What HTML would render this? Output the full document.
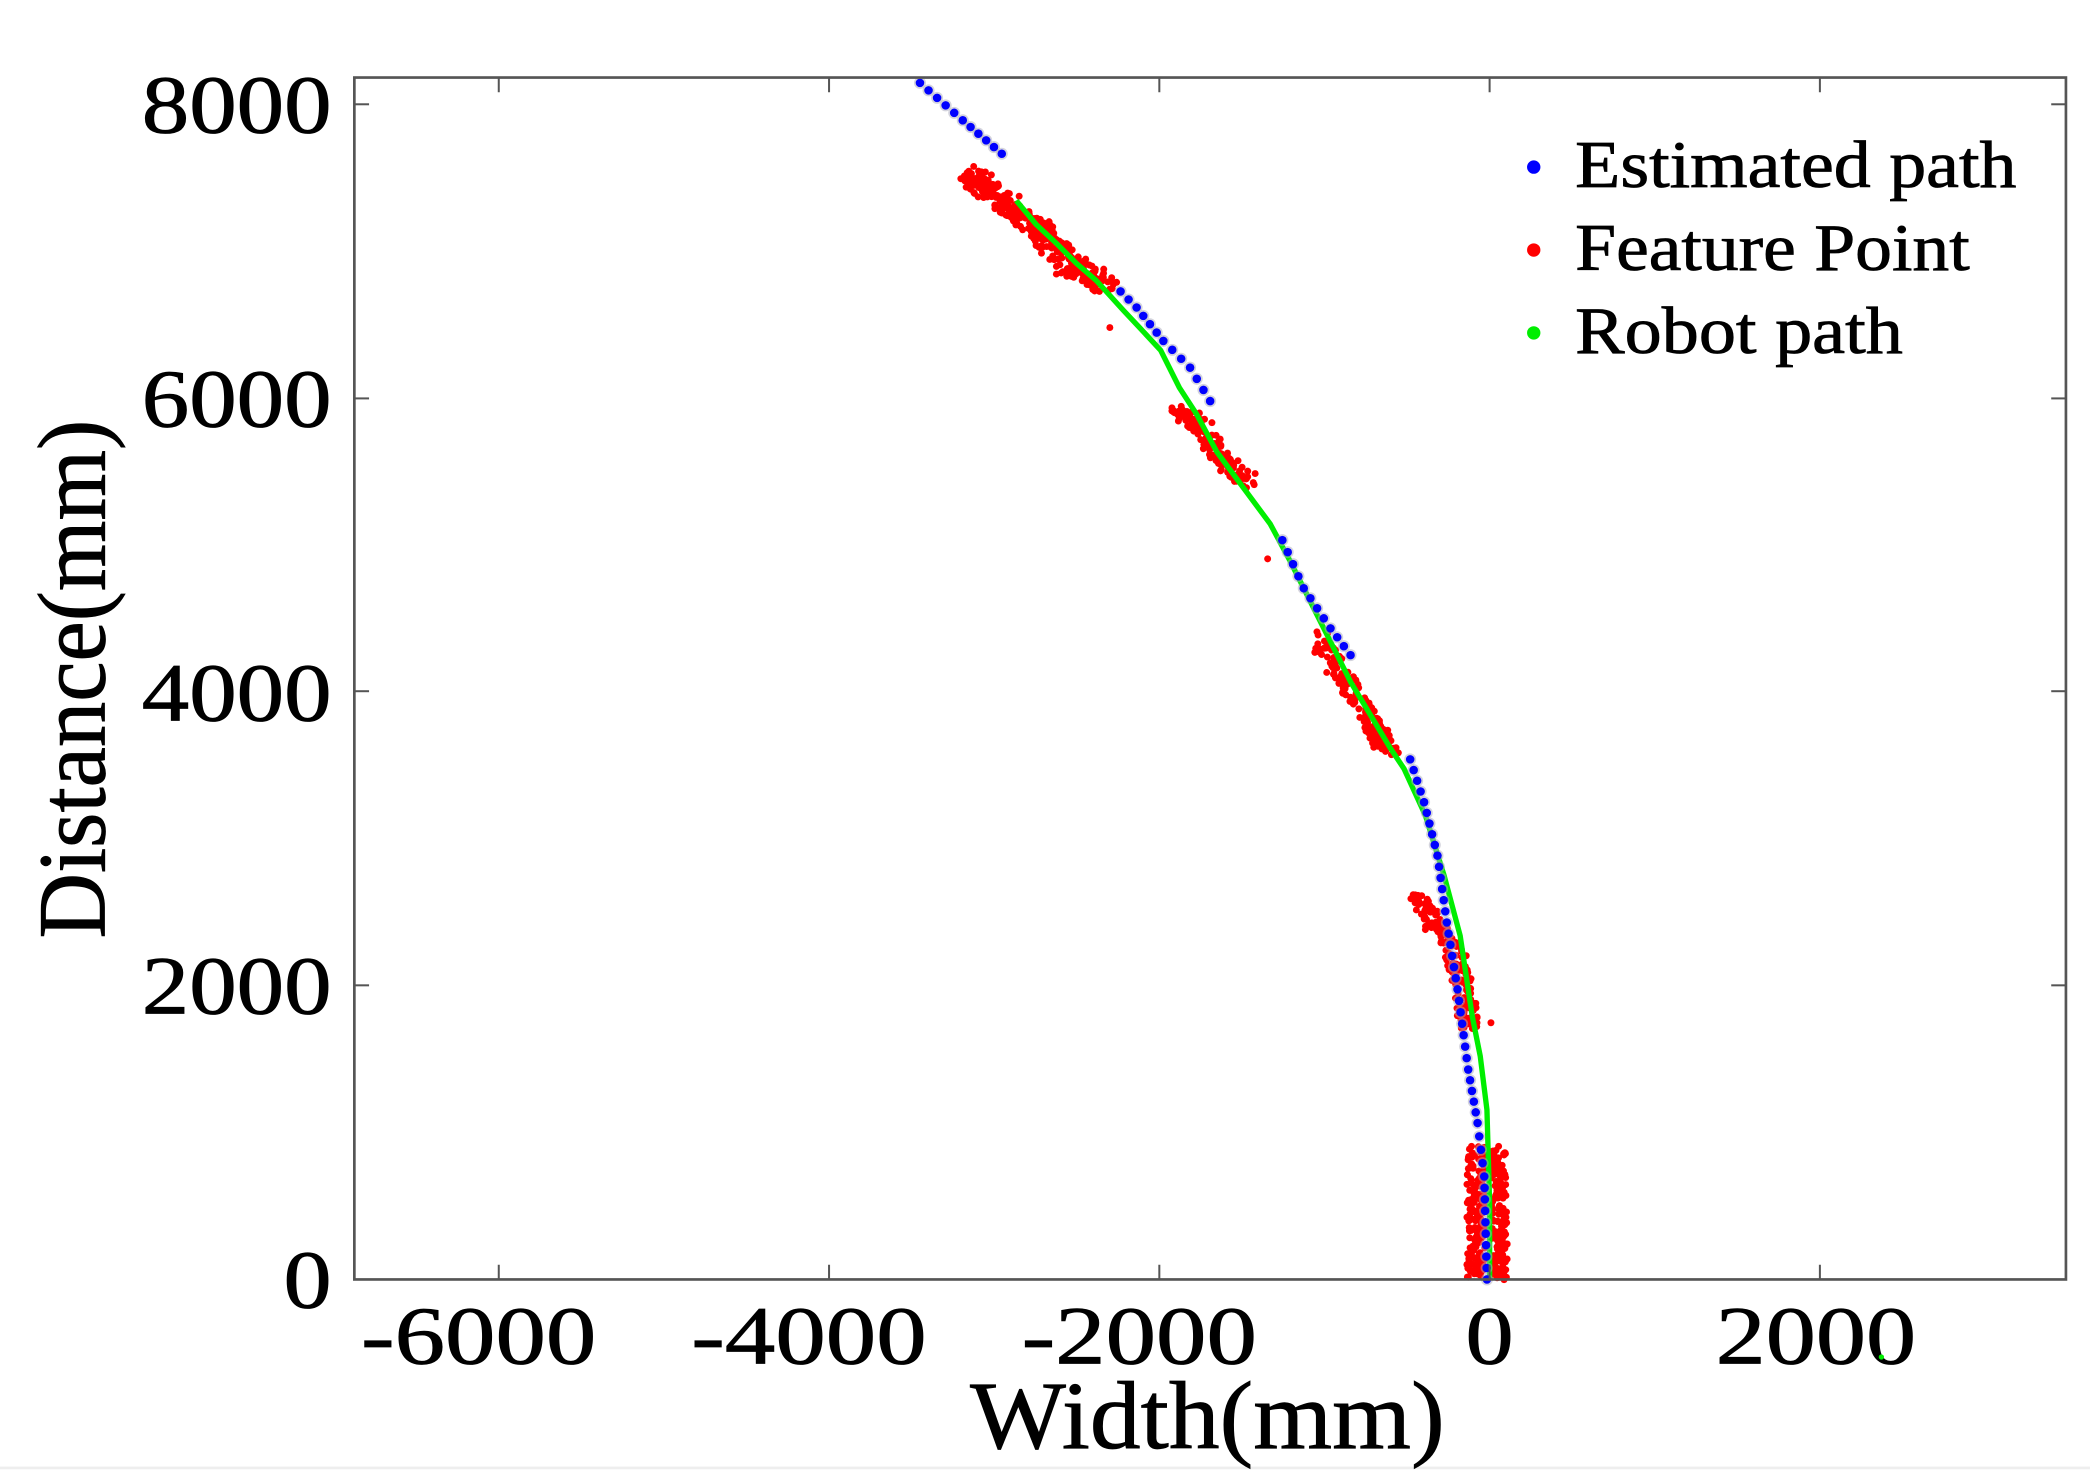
<!DOCTYPE html>
<html><head><meta charset="utf-8"><style>
html,body{margin:0;padding:0;background:#fff;}
svg{display:block;}
text{font-family:"Liberation Serif",serif;fill:#000;stroke:#000;stroke-width:0.6;}
</style></head><body>
<svg id="s" width="2090" height="1480" viewBox="0 0 1563 1107" preserveAspectRatio="none" xmlns="http://www.w3.org/2000/svg">
<rect x="0" y="0" width="1563" height="1107" fill="#fff"/>
<line x1="0" y1="1098" x2="1563" y2="1098" stroke="#eee" stroke-width="2"/>
<g id="data"></g>
<rect x="265" y="58" width="1280" height="899" fill="none" stroke="#555" stroke-width="2"/>
<g stroke="#555" stroke-width="1.5" id="ticks"></g>
<g font-size="62">
<text x="248" y="99" text-anchor="end" textLength="142" lengthAdjust="spacingAndGlyphs">8000</text>
<text x="248" y="319" text-anchor="end" textLength="142" lengthAdjust="spacingAndGlyphs">6000</text>
<text x="248" y="539" text-anchor="end" textLength="142" lengthAdjust="spacingAndGlyphs">4000</text>
<text x="248" y="758" text-anchor="end" textLength="142" lengthAdjust="spacingAndGlyphs">2000</text>
<text x="248" y="978" text-anchor="end" textLength="36" lengthAdjust="spacingAndGlyphs">0</text>
<text x="358" y="1020" text-anchor="middle" textLength="176" lengthAdjust="spacingAndGlyphs">-6000</text>
<text x="605" y="1020" text-anchor="middle" textLength="176" lengthAdjust="spacingAndGlyphs">-4000</text>
<text x="852" y="1020" text-anchor="middle" textLength="176" lengthAdjust="spacingAndGlyphs">-2000</text>
<text x="1114" y="1020" text-anchor="middle" textLength="36" lengthAdjust="spacingAndGlyphs">0</text>
<text x="1358" y="1020" text-anchor="middle" textLength="150" lengthAdjust="spacingAndGlyphs">2000</text>
</g>
<text x="903" y="1083" font-size="72" text-anchor="middle" textLength="355" lengthAdjust="spacingAndGlyphs">Width(mm)</text>
<text transform="translate(78,508) rotate(-90)" font-size="72" text-anchor="middle" textLength="388" lengthAdjust="spacingAndGlyphs">Distance(mm)</text>
<g font-size="50">
<circle cx="1147" cy="125" r="5" fill="#00f"/>
<text x="1178" y="140" textLength="330" lengthAdjust="spacingAndGlyphs">Estimated path</text>
<circle cx="1147" cy="187" r="5" fill="#f00"/>
<text x="1178" y="202" textLength="295" lengthAdjust="spacingAndGlyphs">Feature Point</text>
<circle cx="1147" cy="249" r="5" fill="#0e0"/>
<text x="1178" y="264" textLength="245" lengthAdjust="spacingAndGlyphs">Robot path</text>
</g>
<circle cx="1407" cy="1015" r="2" fill="#0e0"/>
</svg>
<script>
(function(){
var NS="http://www.w3.org/2000/svg";
var d=document.getElementById("data"), t=document.getElementById("ticks");
function el(n,a,p){var e=document.createElementNS(NS,n);for(var k in a)e.setAttribute(k,a[k]);(p||d).appendChild(e);return e;}
[78,298,517,737].forEach(function(y){el("line",{x1:265,y1:y,x2:276,y2:y},t);el("line",{x1:1545,y1:y,x2:1534,y2:y},t);});
[373,620,867,1114,1361].forEach(function(x){el("line",{x1:x,y1:957,x2:x,y2:946},t);el("line",{x1:x,y1:58,x2:x,y2:69},t);});
var seed=7;function r(){seed=(seed*16807)%2147483647;return seed/2147483647;}
var G=[[1114,957],[1114,900],[1112,830],[1107,790],[1101,760],[1092,700],[1080,655],[1066,610],[1050,575],[1040,560],[1025,535],[1010,510],[995,480],[980,450],[965,420],[950,392],[930,365],[910,338],[895,310],[882,290],[868,262],[855,248],[840,232],[820,210],[805,197],[790,182],[775,168],[760,150]];
function interp(pts,step,fn){for(var i=0;i<pts.length-1;i++){var a=pts[i],b=pts[i+1],L=Math.hypot(b[0]-a[0],b[1]-a[1]),n=Math.max(1,Math.round(L/step));for(var j=0;j<n;j++){var u=j/n;fn(a[0]+(b[0]-a[0])*u,a[1]+(b[1]-a[1])*u);}}}
function cluster(pts,n,w){var tot=[];interp(pts,1,function(x,y){tot.push([x,y]);});for(var i=0;i<n;i++){var p=tot[Math.floor(r()*tot.length)];el("circle",{cx:p[0]+(r()-0.5)*w,cy:p[1]+(r()-0.5)*w*0.6,r:2.6,fill:"#f00"});}}
cluster([[1104,860],[1104,957]],170,14);cluster([[1120,860],[1122,957]],170,12);
cluster([[1060,670],[1080,700],[1090,720],[1100,770]],160,16);
cluster([[985,475],[1000,500],[1020,530],[1040,565]],160,16);
cluster([[880,305],[900,320],[915,345],[935,362]],130,16);
cluster([[725,130],[750,150],[780,175],[805,200],[830,215]],330,20);
[[830,245],[790,205],[948,418],[1115,765],[1060,672],[1090,735]].forEach(function(p){el("circle",{cx:p[0],cy:p[1],r:2.6,fill:"#f00"});});
el("polyline",{points:G.map(function(p){return p.join(",");}).join(" "),fill:"none",stroke:"#0e0","stroke-width":4,"stroke-linejoin":"round"});
function star(x,y){el("circle",{cx:x,cy:y,r:4.5,fill:"#aab",opacity:0.5});el("circle",{cx:x,cy:y,r:3.2,fill:"#00f"});}
interp([[1112,957],[1110,880],[1105,840],[1098,800],[1090,740],[1082,690],[1075,640],[1065,600],[1052,560]],9,star);
interp([[1010,490],[995,470],[975,440],[955,395]],9,star);
interp([[905,300],[890,275],[870,255],[850,230],[832,212]],9,star);
interp([[688,62],[720,90],[755,120]],8,star);
})();
</script>
</body></html>
